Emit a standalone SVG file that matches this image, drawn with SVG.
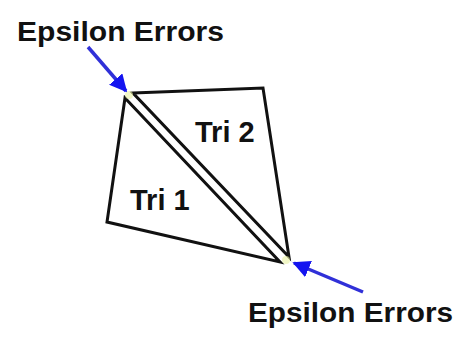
<svg xmlns="http://www.w3.org/2000/svg" width="470" height="350" viewBox="0 0 470 350">
<style>
.tri{fill:none;stroke:#111;stroke-width:3;stroke-linejoin:miter}
.lbl{font-family:"Liberation Sans",Arial,sans-serif;font-weight:bold;fill:#111}
.arr{stroke:#3030d8;stroke-width:3.5;fill:none}
</style>
<defs>
<marker id="ah" viewBox="0 0 10 10" refX="9" refY="5" markerWidth="5" markerHeight="5" orient="auto" markerUnits="strokeWidth">
<path d="M0,0 L10,5 L0,10 Z" fill="#1414f0"/>
</marker>
</defs>
<rect width="470" height="350" fill="#fff"/>
<g id="tri1">
<polygon class="tri" points="125,98 107,222 280,262"/>
<text class="lbl" x="130" y="210" font-size="29">Tri 1</text>
</g>
<g id="tri2">
<polygon class="tri" points="133,93 263,88 289,257"/>
<text class="lbl" x="195" y="142" font-size="29">Tri 2</text>
</g>
<g id="vertices">
<circle cx="129" cy="95" r="4" fill="#e8f0a0" opacity="0.6"/>
<circle cx="286" cy="260" r="4" fill="#e8f0a0" opacity="0.6"/>
</g>
<g id="label-top">
<text class="lbl" x="17" y="41" font-size="28" textLength="207" lengthAdjust="spacingAndGlyphs">Epsilon Errors</text>
</g>
<g id="label-bottom">
<text class="lbl" x="248" y="322" font-size="28" textLength="205" lengthAdjust="spacingAndGlyphs">Epsilon Errors</text>
</g>
<g id="connectors">
<line class="arr" x1="88" y1="47" x2="126" y2="91" marker-end="url(#ah)"/>
<line class="arr" x1="363" y1="292" x2="294" y2="263" marker-end="url(#ah)"/>
</g>
</svg>
